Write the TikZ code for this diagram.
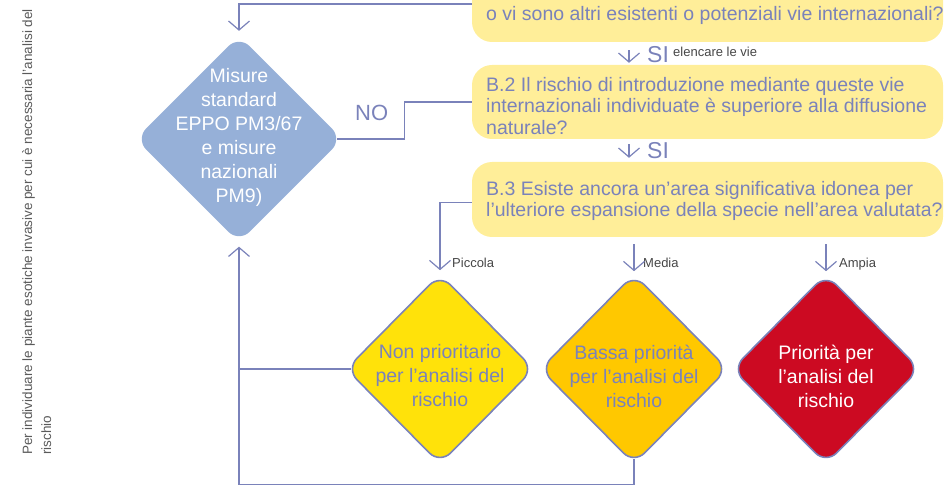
\documentclass[tikz,border=0pt]{standalone}
\usepackage{fontspec}
\setmainfont{Liberation Sans}
\usetikzlibrary{arrows.meta,shapes.geometric}
\definecolor{slate}{RGB}{122,130,186}
\definecolor{boxy}{RGB}{255,238,153}
\definecolor{bluef}{RGB}{150,176,216}
\definecolor{yel}{RGB}{255,226,10}
\definecolor{ora}{RGB}{255,200,0}
\definecolor{redd}{RGB}{204,10,34}
\definecolor{greyt}{RGB}{70,70,70}
\definecolor{greyv}{RGB}{90,90,90}
\begin{document}
\begin{tikzpicture}[x=1pt,y=-1pt,
 conn/.style={draw=slate,line width=1.2pt},
 arr/.style={conn,-{Straight Barb[length=9pt,width=21pt]}},
 ybox/.style={fill=boxy,rounded corners=20pt,minimum width=471pt,inner sep=0pt},
 btext/.style={align=left,text=slate,font=\fontsize{19.5}{21.5}\selectfont,inner sep=0pt},
 diam/.style={diamond,aspect=1,inner sep=0pt,rounded corners=15pt},
 ddiam/.style={diam,draw=slate,line width=1.6pt,minimum width=188pt,minimum height=190pt},
 dtext/.style={align=center,font=\fontsize{19.5}{24}\selectfont,inner sep=0pt},
 lbl/.style={text=greyt,font=\fontsize{13}{15}\selectfont,inner sep=0pt,anchor=base west},
 silab/.style={text=slate,font=\fontsize{23}{25}\selectfont,inner sep=0pt,anchor=base west},
 vtext/.style={text=greyv,font=\fontsize{13.5}{19}\selectfont,inner sep=0pt,rotate=90,anchor=base west},
]
\useasboundingbox (0,0) rectangle (945,486);

% vertical side text
\node[vtext] (v1) at (32,455) {Per individuare le piante esotiche invasive per cui è necessaria l’analisi del};
\node[vtext] (v2) at (51,455) {rischio};

% yellow question boxes
\node[ybox,minimum height=76pt] (b1) at (707.5,4) {};
\node[ybox,minimum height=74pt] (b2) at (707.5,102) {};
\node[ybox,minimum height=75pt] (b3) at (707.5,199.5) {};
\node[btext,anchor=base west] (t1) at (486,21) {o vi sono altri esistenti o potenziali vie internazionali?};
\node[btext,anchor=west] (t2) at (486,106) {B.2 Il rischio di introduzione mediante queste vie\\internazionali individuate è superiore alla diffusione\\naturale?};
\node[btext,anchor=west] (t3) at (486,201) {B.3 Esiste ancora un’area significativa idonea per\\l’ulteriore espansione della specie nell’area valutata?};

% SI labels
\coordinate (a1) at (629,0);
\node[silab] (si1) at (647,63) {SI};
\node[lbl] (el) at (673,57) {elencare le vie};
\node[silab] (si2) at (647,159) {SI};
\draw[arr,shorten <=8pt,shorten >=2pt] (b1.south -| a1) -- (b2.north -| a1);
\draw[arr,shorten <=5pt,shorten >=4pt] (b2.south -| a1) -- (b3.north -| a1);

% blue diamond
\node[diam,fill=bluef,minimum width=207pt,minimum height=207pt] (mis) at (239,139) {};
\node[dtext,text=white] (mist) at (239,137) {Misure\\standard\\EPPO PM3/67\\e misure\\nazionali\\PM9)};

% outcome diamonds
\node[ddiam,fill=yel] (np) at (440,369) {};
\node[dtext,text=slate] (npt) at (440,376) {Non prioritario\\per l’analisi del\\rischio};
\node[ddiam,fill=ora] (ba) at (634,369) {};
\node[dtext,text=slate] (bat) at (634,376) {Bassa priorità\\per l’analisi del\\rischio};
\node[ddiam,fill=redd] (pr) at (826,369) {};
\node[dtext,text=white] (prt) at (826,376) {Priorità per\\l’analisi del\\rischio};

% labels
\node[text=slate,font=\fontsize{22}{24}\selectfont,inner sep=0pt,anchor=base west] (no) at (355,121) {NO};
\node[lbl] (lp) at (452,268) {Piccola};
\node[lbl] (lm) at (643,268) {Media};
\node[lbl] (la) at (839,268) {Ampia};

% connectors
\draw[arr,shorten >=4.5pt] (b1.west) -| (mis.north);
\draw[conn] (b2.west) -- ++(-67,0) |- ([xshift=-6pt]mis.east);
\draw[arr,shorten >=3pt] ([yshift=-3pt]b3.west) -| (np.north);
\draw[arr,shorten <=7pt,shorten >=2pt] (b3.south -| ba.north) -- (ba.north);
\draw[arr,shorten <=7pt,shorten >=2pt] (b3.south -| pr.north) -- (pr.north);
\coordinate (bl) at (0,484.5);
\draw[arr,shorten >=4pt] ([yshift=6pt]ba.south) -- (ba.south |- bl) -| (mis.south);
\draw[conn] ([xshift=6pt]np.west) -- (np.west -| mis.south);
\end{tikzpicture}
\end{document}
